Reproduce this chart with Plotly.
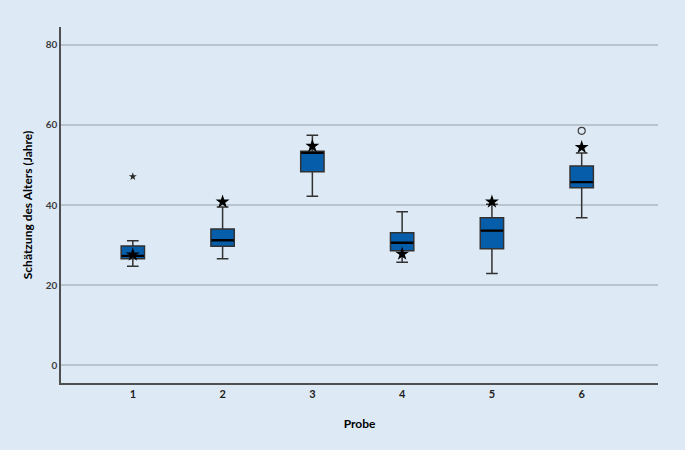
import plotly.graph_objects as go

probes = [1, 2, 3, 4, 5, 6]
lower_whisker = [24.7, 26.6, 42.2, 25.7, 22.9, 36.8]
q1 = [26.6, 29.7, 48.3, 28.6, 29.1, 44.3]
median = [27.3, 31.2, 53.0, 30.6, 33.6, 45.7]
q3 = [29.8, 34.0, 53.4, 33.1, 36.8, 49.7]
upper_whisker = [31.1, 39.5, 57.4, 38.3, 40.2, 53.0]
true_age = [27.6, 40.8, 54.7, 27.8, 40.8, 54.4]

extreme_x = [1]
extreme_y = [47.1]
mild_x = [6]
mild_y = [58.5]

x_ticks = ["1", "2", "3", "4", "5", "6"]
y_ticks = [0, 20, 40, 60, 80]

BG = "rgb(221,234,246)"
FONT = "Lato, 'Open Sans', Arial, sans-serif"

fig = go.Figure()
fig.add_trace(go.Box(
    x=probes, q1=q1, median=median, q3=q3,
    lowerfence=lower_whisker, upperfence=upper_whisker,
    width=0.26, whiskerwidth=0.5,
    fillcolor="rgb(6,94,171)",
    line=dict(color="rgb(50,50,50)", width=1.5),
    boxpoints=False, hoverinfo="skip", showlegend=False,
))
# thicker median line drawn as a flat box at the median
fig.add_trace(go.Box(
    x=probes, q1=median, median=median, q3=median,
    lowerfence=median, upperfence=median,
    width=0.25, whiskerwidth=0,
    fillcolor="black",
    line=dict(color="black", width=2.4),
    boxpoints=False, hoverinfo="skip", showlegend=False,
))
fig.add_trace(go.Scatter(
    x=extreme_x, y=extreme_y, mode="markers",
    marker=dict(symbol="star", size=6, color="rgb(40,40,40)"),
    showlegend=False,
))
fig.add_trace(go.Scatter(
    x=mild_x, y=mild_y, mode="markers",
    marker=dict(symbol="circle-open", size=7, color="rgb(60,60,60)", line=dict(width=1.2)),
    showlegend=False,
))
fig.add_trace(go.Scatter(
    x=probes, y=true_age, mode="markers",
    marker=dict(symbol="star", size=10.5, color="black"),
    showlegend=False,
))

fig.update_layout(
    width=685, height=450,
    boxmode="overlay",
    paper_bgcolor=BG, plot_bgcolor=BG,
    margin=dict(l=61, r=27, t=27, b=67),
    font=dict(family=FONT, color="black"),
    xaxis=dict(
        range=[0.2, 6.85], tickmode="array", tickvals=probes, ticktext=x_ticks,
        showgrid=False, zeroline=False, showline=True, linecolor="rgb(80,80,80)", linewidth=1.5,
        ticks="", tickfont=dict(size=11, color="rgb(30,30,30)", family=FONT, weight="bold"),
        title=dict(text="<b>Probe</b>", font=dict(size=12, family=FONT), standoff=21),
    ),
    yaxis=dict(
        range=[-4.4, 84.4], tickvals=y_ticks,
        showgrid=True, gridcolor="rgb(184,196,206)", gridwidth=1.5,
        zeroline=False, showline=True, linecolor="rgb(80,80,80)", linewidth=1.5,
        ticks="", tickfont=dict(size=10, color="rgb(60,60,60)", family=FONT, weight="bold"),
        title=dict(text="<b>Schätzung des Alters (Jahre)</b>", font=dict(size=12, family=FONT), standoff=10),
    ),
)

fig.write_html("out.html", config={"displayModeBar": False},
               post_script="document.body.style.margin='0';document.body.style.background='%s';" % BG)
